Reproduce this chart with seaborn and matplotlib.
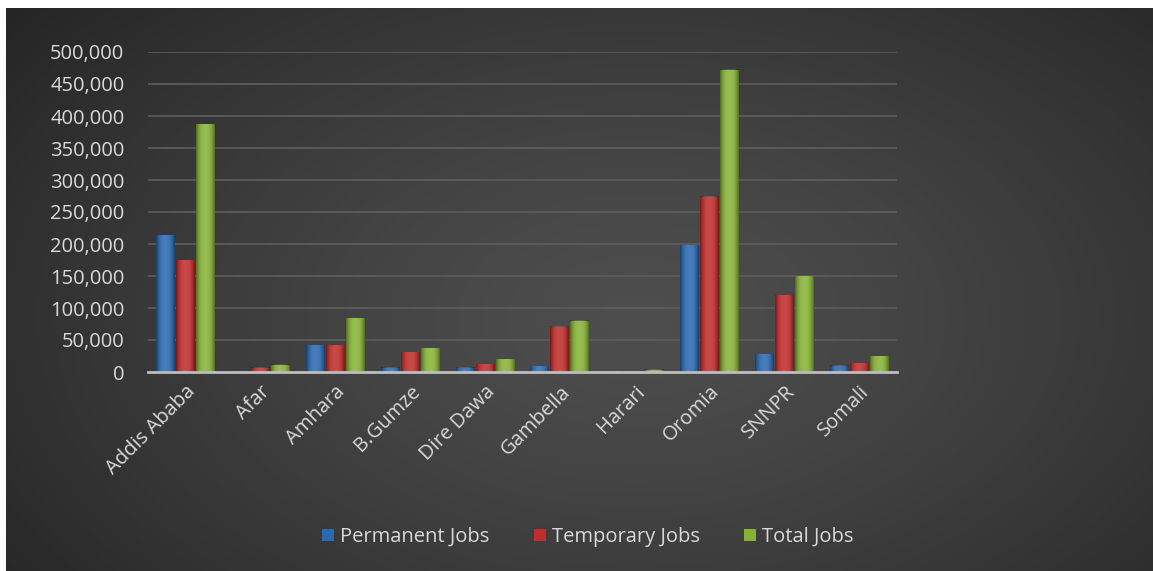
import numpy as np
import pandas as pd
import matplotlib
matplotlib.use("Agg")
import matplotlib.pyplot as plt
from matplotlib.ticker import FuncFormatter
import seaborn as sns

regions = ["Addis Ababa", "Afar", "Amhara", "B.Gumze", "Dire Dawa",
           "Gambella", "Harari", "Oromia", "SNNPR", "Somali"]
permanent_jobs = [214000, 1000, 42000, 7000, 7000, 9000, 800, 198000, 28000, 10000]
temporary_jobs = [175000, 7000, 42000, 31000, 12500, 70500, 1200, 274000, 120000, 14000]
total_jobs = [387000, 11000, 84000, 37000, 20000, 80000, 3500, 472000, 150000, 25000]
series_names = ["Permanent Jobs", "Temporary Jobs", "Total Jobs"]
y_ticks = list(range(0, 500001, 50000))

palette = ["#2a68b2", "#c12d2b", "#86b236"]

df = pd.DataFrame({"Region": regions,
                   series_names[0]: permanent_jobs,
                   series_names[1]: temporary_jobs,
                   series_names[2]: total_jobs})
long = df.melt(id_vars="Region", var_name="Series", value_name="Jobs")

sns.set_theme(style="dark")
plt.rcParams["font.family"] = ["Open Sans", "DejaVu Sans"]

W, H = 1153, 571
fig = plt.figure(figsize=(W / 100, H / 100), dpi=100, facecolor="white")

# dark panel with a soft radial highlight
bg = fig.add_axes([6 / W, 0, 1 - 6 / W, 1 - 8 / H])
bg.set_axis_off()
yy, xx = np.mgrid[0:1:300j, 0:1:600j]
r = np.sqrt(((xx - 0.55) / 0.72) ** 2 + ((yy - 0.45) / 0.9) ** 2)
shade = 0.305 - 0.165 * np.clip(r, 0, 1) ** 1.3
bg.imshow(np.dstack([shade] * 3), extent=[0, 1, 0, 1], aspect="auto", origin="lower")
bg.set_xlim(0, 1)
bg.set_ylim(0, 1)

ax = fig.add_axes([148 / W, 1 - 372 / H, (897 - 148) / W, (372 - 52) / H])
ax.set_facecolor("none")

sns.barplot(data=long, x="Region", y="Jobs", hue="Series", palette=palette,
            width=0.8, gap=0.05, saturation=1, linewidth=0, ax=ax, legend=True)

ax.set_ylim(0, 500000)
ax.set_yticks(y_ticks)
ax.yaxis.set_major_formatter(FuncFormatter(lambda v, p: f"{int(v):,}"))
ax.grid(axis="y", color="#5e5e5e", linewidth=1.2)
ax.grid(axis="x", visible=False)
ax.set_axisbelow(True)
for s in ["left", "right", "top"]:
    ax.spines[s].set_visible(False)
ax.spines["bottom"].set_color("#bdbdbd")
ax.spines["bottom"].set_linewidth(2)
ax.set_xlabel("")
ax.set_ylabel("")
ax.tick_params(axis="y", colors="#d9d9d9", labelsize=14.5, pad=17, length=0)
ax.tick_params(axis="x", colors="#d9d9d9", labelsize=14.5, pad=7, length=0)
for lbl in ax.get_xticklabels():
    lbl.set_rotation(45)
    lbl.set_ha("right")
    lbl.set_rotation_mode("anchor")

# cylinder-like shading on each bar
grad = np.linspace(-1, 1, 64)
light = (1 - grad ** 2)
for patch in ax.patches:
    x0, y0 = patch.get_x(), patch.get_y()
    w, h = patch.get_width(), patch.get_height()
    if h <= 0:
        continue
    overlay = np.zeros((1, 64, 4))
    overlay[..., :3] = 1.0
    overlay[..., 3] = 0.14 * light
    ax.imshow(overlay, extent=[x0, x0 + w, y0, y0 + h], aspect="auto",
              zorder=patch.get_zorder() + 0.1, interpolation="bilinear")
    dark = np.zeros((1, 64, 4))
    dark[..., 3] = 0.4 * np.abs(grad) ** 3
    ax.imshow(dark, extent=[x0, x0 + w, y0, y0 + h], aspect="auto",
              zorder=patch.get_zorder() + 0.2, interpolation="bilinear")
ax.set_xlim(-0.5, len(regions) - 0.5)
ax.set_ylim(0, 500000)

handles, labels = ax.get_legend_handles_labels()
ax.get_legend().remove()
fig.legend(handles, labels, loc="center", bbox_to_anchor=(588 / W, 1 - 537 / H),
           ncol=3, frameon=False, fontsize=14.5, labelcolor="#d9d9d9",
           handlelength=0.6, handleheight=0.6, handletextpad=0.3, columnspacing=2.2)

fig.savefig("out.png", dpi=100, facecolor="white")
